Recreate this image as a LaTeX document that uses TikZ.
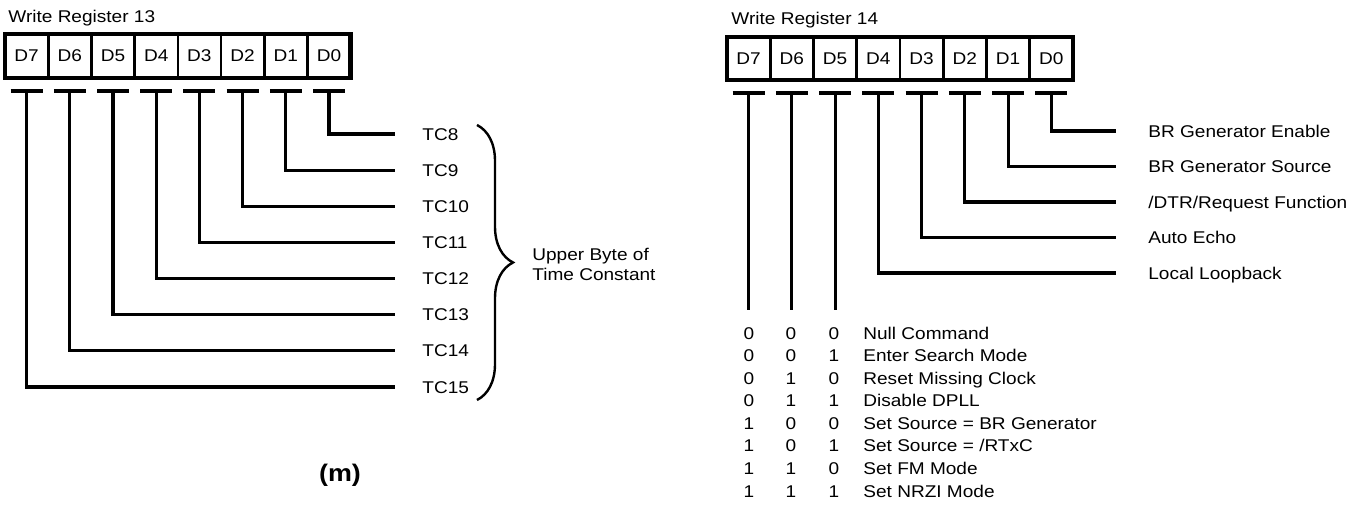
\documentclass[tikz,border=0pt]{standalone}
\usepackage{fontspec}
\setmainfont{Liberation Sans}[FakeStretch=1.12]
\usepackage{tikz}
\usetikzlibrary{calc, decorations.pathreplacing}
\tikzset{
	txt/.style={font=\fontsize{8.5}{10}\selectfont},
	bitcell/.style={rectangle, draw, line width=1.3pt, outer sep=0pt, minimum width=21.6pt, minimum height=22pt, inner sep=0pt, txt},
	regbox/.style={line width=2.2pt},
	tbar/.style={line width=1.6pt},
	wire/.style={line width=1.6pt},
	lbl/.style={anchor=west, inner sep=0pt, text height=6.1pt, text depth=0pt, txt},
	digit/.style={inner sep=0pt, text height=6.1pt, text depth=0pt, txt},
	brc/.style={line width=1.2pt, decorate, decoration={brace, amplitude=18pt}}
}
\begin{document}
\begin{tikzpicture}[x=0.5pt, y=-0.5pt]
		\useasboundingbox (0,0) rectangle (1362,506);
		
		% Write Register 13
		\node (titleL) [lbl] at (8,16) {Write Register 13};
		\foreach \i in {0,...,7} {
			\node (l\i) [bitcell] at ({26.6+43.2*(7-\i)},56) {D\i};
		}
		\draw [regbox] (l7.north west) rectangle (l0.south east);
		\foreach \i in {0,...,7} {
			\coordinate (tl\i) at ([yshift=-6.5pt]l\i.south);
			\draw [tbar] ([xshift=-8pt]tl\i) -- ([xshift=8pt]tl\i);
		}
		
		% Time constant bits
		\foreach \i [evaluate=\i as \n using int(\i+8)] in {0,...,7} {
			\node (tc\i) [lbl] at (422,{134+36.14*\i}) {TC\n};
			\draw [wire, shorten >=13.5pt] (tl\i) |- (tc\i.west);
		}
		\coordinate (bt) at (477,125);
		\coordinate (bb) at (477,400);
		\draw [brc] (bt) -- (bb);
		\node (ubyte) [anchor=west, align=left, inner sep=0pt, txt] at (532,264) {Upper Byte of\\Time Constant};
		\node (cap) [font=\fontsize{12}{14}\selectfont\bfseries] at (340,475) {(m)};
		
		% Write Register 14
		\node (titleR) [lbl] at (731,18.5) {Write Register 14};
		\foreach \i in {0,...,7} {
			\node (r\i) [bitcell, minimum height=21.5pt] at ({748.6+43.25*(7-\i)},58.5) {D\i};
		}
		\draw [regbox] (r7.north west) rectangle (r0.south east);
		\foreach \i in {0,...,7} {
			\coordinate (tr\i) at ([yshift=-6.5pt]r\i.south);
			\draw [tbar] ([xshift=-8pt]tr\i) -- ([xshift=8pt]tr\i);
		}
		
		% Single bit functions
		\foreach \i/\t in {0/BR Generator Enable, 1/BR Generator Source, 2/{/DTR/Request Function}, 3/Auto Echo, 4/Local Loopback} {
			\node (w\i) [lbl] at (1148,{131+35.5*\i}) {\t};
			\draw [wire, shorten >=16pt] (tr\i) |- (w\i.west);
		}
		
		% DPLL command bits
		\foreach \i in {5,6,7} {
			\coordinate (e\i) at ($(tr\i)+(0,217)$);
			\draw [wire] (tr\i) -- (e\i);
		}
		\foreach \a/\b/\c/\t [count=\r from 0] in {0/0/0/Null Command, 0/0/1/Enter Search Mode, 0/1/0/Reset Missing Clock, 0/1/1/Disable DPLL, 1/0/0/Set Source = BR Generator, 1/0/1/{Set Source = /RTxC}, 1/1/0/Set FM Mode, 1/1/1/Set NRZI Mode} {
			\node (c\r a) [digit] at (749,{333+22.57*\r}) {\a};
			\node (c\r b) [digit] at (791,{333+22.57*\r}) {\b};
			\node (c\r c) [digit] at (834,{333+22.57*\r}) {\c};
			\node (cmd\r) [lbl] at (863,{333+22.57*\r}) {\t};
		}
	\end{tikzpicture}
\end{document}
